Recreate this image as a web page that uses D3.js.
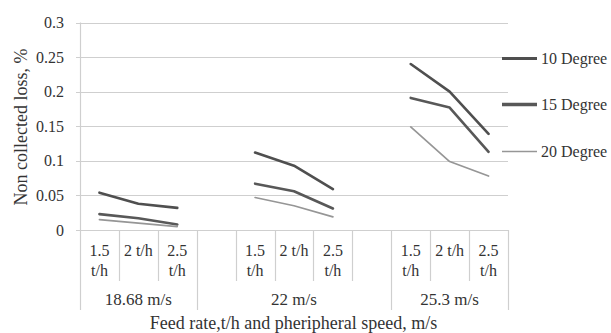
<!DOCTYPE html>
<html>
<head>
<meta charset="utf-8">
<script src="https://cdn.jsdelivr.net/npm/d3@7"></script>
</head>
<body style="margin:0">
<svg id="chart" width="611" height="333" font-family="Liberation Serif"></svg>
<script>
// Feed-rate categories (blank entries separate the speed groups)
const feedRates = ["1.5 t/h", "2 t/h", "2.5 t/h", "", "1.5 t/h", "2 t/h", "2.5 t/h", "", "1.5 t/h", "2 t/h", "2.5 t/h"];
// Peripheral-speed groups and how many feed-rate cells each one spans
const speedGroups = ["18.68 m/s", "22 m/s", "25.3 m/s"];
const speedSpans = [3, 5, 3];

// Non collected loss (%) for each sieve angle
const deg10 = [0.054, 0.038, 0.032, null, 0.112, 0.093, 0.059, null, 0.240, 0.200, 0.139];
const deg15 = [0.023, 0.017, 0.008, null, 0.067, 0.056, 0.031, null, 0.191, 0.177, 0.113];
const deg20 = [0.015, 0.010, 0.005, null, 0.047, 0.035, 0.019, null, 0.149, 0.099, 0.078];

const seriesNames = ["10 Degree", "15 Degree", "20 Degree"];
const yTicks = [0, 0.05, 0.1, 0.15, 0.2, 0.25, 0.3];
const yTickLabels = ["0", "0.05", "0.1", "0.15", "0.2", "0.25", "0.3"];

const series = [
  { name: seriesNames[0], values: deg10, color: "#4f4f4f", width: 2.6 },
  { name: seriesNames[1], values: deg15, color: "#585858", width: 2.6 },
  { name: seriesNames[2], values: deg20, color: "#969696", width: 1.7 }
];

const svg = d3.select("#chart");
const plot = { left: 80, right: 508, top: 22.5, bottom: 230 };

const x = d3.scaleBand().domain(d3.range(feedRates.length)).range([plot.left, plot.right]).padding(0);
const y = d3.scaleLinear().domain([0, 0.3]).range([plot.bottom, plot.top]);

function label(sel, size) {
  return sel.style("font-family", d => "'Liberation Serif'")
    .style("font-size", size + "px").attr("fill", "#333");
}

// Horizontal gridlines
svg.append("g").selectAll("line").data(yTicks).join("line")
  .attr("x1", plot.left - 4).attr("x2", plot.right)
  .attr("y1", d => Math.round(y(d)) + 0.5).attr("y2", d => Math.round(y(d)) + 0.5)
  .attr("stroke", "#cfcfcf").attr("stroke-width", 1.2);

// Value axis line
svg.append("line")
  .attr("x1", plot.left + 0.5).attr("x2", plot.left + 0.5)
  .attr("y1", y(0.3)).attr("y2", plot.bottom)
  .attr("stroke", "#cfcfcf").attr("stroke-width", 1.2);

// Value tick labels
label(svg.append("g").selectAll("text").data(yTicks).join("text"), 16)
  .attr("x", 64).attr("y", d => y(d))
  .attr("dy", "0.35em")
  .attr("text-anchor", "end")
  .text((d, i) => yTickLabels[i]);

// Category table below the plot: cell dividers
const boundaries = d3.range(feedRates.length + 1).map(i => i < feedRates.length ? x(i) : plot.right);
const groupEdges = [0];
speedSpans.forEach(s => groupEdges.push(groupEdges[groupEdges.length - 1] + s));

svg.append("g").selectAll("line").data(boundaries).join("line")
  .attr("x1", d => Math.round(d) + 0.5).attr("x2", d => Math.round(d) + 0.5)
  .attr("y1", plot.bottom)
  .attr("y2", (d, i) => groupEdges.includes(i) ? 310 : 281)
  .attr("stroke", "#cfcfcf").attr("stroke-width", 1.2);

// Feed-rate labels, wrapped when wider than the cell
const catLabels = label(svg.append("g").selectAll("text").data(feedRates).join("text"), 16)
  .attr("text-anchor", "middle")
  .attr("y", 256);

catLabels.each(function (d, i) {
  const t = d3.select(this);
  const cx = x(i) + x.bandwidth() / 2;
  t.attr("x", cx).text(d);
  if (d && this.getComputedTextLength() > x.bandwidth() - 4) {
    const parts = d.split(" ");
    t.text(null);
    parts.forEach((p, k) => {
      t.append("tspan").attr("x", cx).attr("dy", k === 0 ? 0 : 19.5).text(p);
    });
  }
});

// Peripheral-speed group labels
label(svg.append("g").selectAll("text").data(speedGroups).join("text"), 17)
  .attr("x", (d, i) => (boundaries[groupEdges[i]] + boundaries[groupEdges[i + 1]]) / 2)
  .attr("y", 305)
  .attr("text-anchor", "middle")
  .text(d => d);

// Axis titles
label(svg.append("text"), 18)
  .attr("x", (plot.left + plot.right) / 2 - 0.5).attr("y", 329)
  .attr("text-anchor", "middle")
  .text("Feed rate,t/h and pheripheral speed, m/s");

label(svg.append("text"), 18)
  .attr("transform", "translate(27,127) rotate(-90)")
  .attr("text-anchor", "middle")
  .text("Non collected loss, %");

// Data lines (gaps at blank categories)
const line = d3.line()
  .defined(d => d != null)
  .x((d, i) => x(i) + x.bandwidth() / 2)
  .y(d => y(d));

svg.append("g").selectAll("path").data(series).join("path")
  .attr("d", s => line(s.values))
  .attr("fill", "none")
  .attr("stroke", s => s.color)
  .attr("stroke-width", s => s.width)
  .attr("stroke-linejoin", "round")
  .attr("stroke-linecap", "round");

// Legend
const legendY = [58.5, 104.5, 151.5];
const legend = svg.append("g").selectAll("g").data(series).join("g")
  .attr("transform", (s, i) => `translate(502,${legendY[i]})`);
legend.append("line")
  .attr("x1", 0).attr("x2", 35)
  .attr("stroke", s => s.color)
  .attr("stroke-width", (s, i) => i === 1 ? 3.6 : (i === 0 ? 3 : 1.7));
label(legend.append("text"), 16)
  .attr("x", 39).attr("dy", "0.35em")
  .text(s => s.name);
</script>
</body>
</html>
